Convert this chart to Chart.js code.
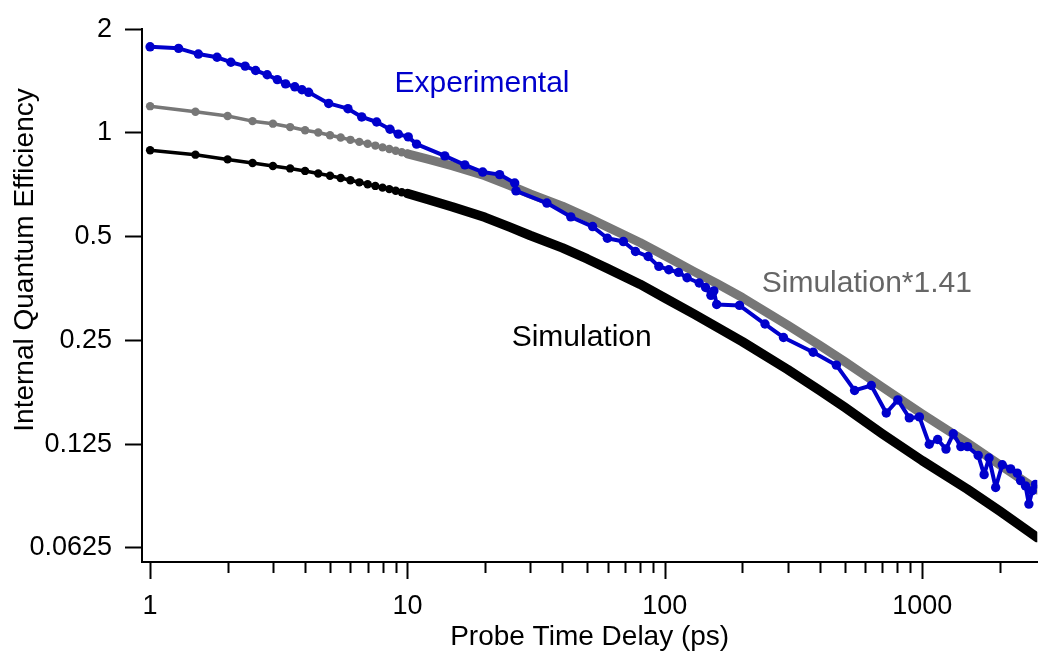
<!DOCTYPE html>
<html>
<head>
<meta charset="utf-8">
<title>Internal Quantum Efficiency vs Probe Time Delay</title>
<script src="https://cdn.jsdelivr.net/npm/chart.js@4.4.1/dist/chart.umd.min.js"></script>
<style>
  html, body { margin: 0; padding: 0; background: #fff; }
  #wrap { width: 1042px; height: 658px; position: relative; }
</style>
</head>
<body>
<div id="wrap"><canvas id="iqeChart"></canvas></div>
<script>
// measured transient (ps, IQE)
const expTime = [1.0, 1.29, 1.54, 1.82, 2.06, 2.34, 2.57, 2.85, 3.12, 3.36, 3.65, 3.89, 4.13, 4.94,
  5.87, 6.64, 7.59, 8.55, 9.21, 10.07, 10.85, 13.96, 16.7, 19.6, 22.8, 26.1, 26.4, 34.8, 43.1,
  52.4, 59.8, 69.0, 76.9, 86.1, 94.8, 103.6, 113, 122, 136, 144, 151, 155, 159, 195, 245, 289,
  377, 464, 546, 634, 725, 804, 891, 975, 1065, 1148, 1237, 1320, 1413, 1500, 1650, 1740, 1818,
  1929, 2047, 2206, 2340, 2410, 2520, 2597, 2677, 2756];
const expIQE = [1.778, 1.760, 1.694, 1.658, 1.604, 1.563, 1.518, 1.475, 1.428, 1.388, 1.361, 1.335, 1.312, 1.218,
  1.176, 1.113, 1.076, 1.025, 0.992, 0.974, 0.928, 0.858, 0.808, 0.770, 0.757, 0.716, 0.679, 0.626, 0.571,
  0.535, 0.495, 0.484, 0.453, 0.438, 0.410, 0.401, 0.394, 0.380, 0.367, 0.356, 0.338, 0.348, 0.318, 0.316, 0.279, 0.255,
  0.231, 0.212, 0.179, 0.185, 0.154, 0.168, 0.149, 0.150, 0.125, 0.129, 0.121, 0.134, 0.123, 0.123, 0.116, 0.102, 0.114,
  0.0936, 0.109, 0.106, 0.103, 0.098, 0.0946, 0.0838, 0.0916, 0.0956];

// simulation output, sampled every 0.5 ps early on
const simTime = [1, 1.5, 2, 2.5, 3, 3.5, 4, 4.5, 5, 5.5, 6, 6.5, 7, 7.5, 8, 8.5, 9, 9.5, 10,
  12, 15, 20, 25, 30, 40, 50, 60, 80, 100, 130, 160, 200, 300, 400, 500, 700, 1000, 1500, 2000, 2800];
const simIQE = [0.891, 0.865, 0.838, 0.818, 0.802, 0.789, 0.776, 0.763, 0.751, 0.740, 0.729, 0.719, 0.710, 0.702, 0.694, 0.687, 0.680, 0.673, 0.667,
  0.641, 0.610, 0.569, 0.533, 0.504, 0.464, 0.431, 0.404, 0.364, 0.332, 0.298, 0.273, 0.248, 0.206, 0.179, 0.160, 0.134, 0.112, 0.0925, 0.0800, 0.0670];
const simScaledIQE = [1.196, 1.152, 1.120, 1.082, 1.064, 1.040, 1.018, 1.003, 0.985, 0.970, 0.955, 0.942, 0.930, 0.919, 0.908, 0.898, 0.888, 0.879, 0.870,
  0.840, 0.802, 0.751, 0.704, 0.665, 0.613, 0.569, 0.533, 0.481, 0.440, 0.396, 0.365, 0.333, 0.277, 0.242, 0.217, 0.183, 0.153, 0.126, 0.109, 0.092];

const yTicks = [0.0625, 0.125, 0.25, 0.5, 1, 2];
const xTicks = [1, 2, 3, 4, 5, 6, 7, 8, 9, 10, 20, 30, 40, 50, 60, 70, 80, 90,
  100, 200, 300, 400, 500, 600, 700, 800, 900, 1000, 2000];
const xLabelled = [1, 10, 100, 1000];

const BLUE = '#0000cc';
const GREY = '#777777';
const FONT = "'Liberation Sans', Arial, sans-serif";

function toPoints(xs, ys) {
  return xs.map((x, i) => ({ x: x, y: ys[i] }));
}

// past ~10 ps the 0.5 ps samples overlap into a solid band
const denseAfter = 10;
function simDataset(label, ys, color, bandWidth) {
  return {
    label: label,
    data: toPoints(simTime, ys),
    borderColor: color,
    backgroundColor: color,
    borderWidth: 3.5,
    borderJoinStyle: 'round',
    borderCapStyle: 'round',
    pointRadius: ctx => (ctx.raw && ctx.raw.x <= denseAfter ? 4.2 : 0),
    pointBorderWidth: 0,
    segment: {
      borderWidth: ctx => (ctx.p0.parsed.x >= denseAfter ? bandWidth : 3.5)
    }
  };
}

// minor / major tick marks on the time axis
const timeTicks = {
  id: 'timeTicks',
  afterDraw(chart) {
    const xs = chart.scales.x;
    const ctx = chart.ctx;
    ctx.save();
    ctx.strokeStyle = '#000';
    ctx.lineWidth = 2;
    xs.ticks.forEach(t => {
      const px = Math.round(xs.getPixelForValue(t.value)) + 0.5;
      const len = xLabelled.includes(t.value) ? 17 : 11;
      ctx.beginPath();
      ctx.moveTo(px, xs.top);
      ctx.lineTo(px, xs.top + len);
      ctx.stroke();
    });
    ctx.restore();
  }
};

// vertical axis title, centred a little above the middle of the axis
const yTitle = {
  id: 'yTitle',
  afterDraw(chart) {
    const ctx = chart.ctx;
    ctx.save();
    ctx.translate(25, 260);
    ctx.rotate(-Math.PI / 2);
    ctx.font = '28px ' + FONT;
    ctx.fillStyle = '#000';
    ctx.textAlign = 'center';
    ctx.textBaseline = 'middle';
    ctx.fillText('Internal Quantum Efficiency', 0, 0);
    ctx.restore();
  }
};

// curve names written next to the traces
const curveNames = [
  { text: 'Experimental', t: 8.9, v: 1.39, color: BLUE },
  { text: 'Simulation*1.41', t: 238, v: 0.366, color: '#666666' },
  { text: 'Simulation', t: 25.4, v: 0.254, color: '#000000' }
];
const curveLabels = {
  id: 'curveLabels',
  afterDatasetsDraw(chart) {
    const { ctx, scales: { x, y } } = chart;
    ctx.save();
    ctx.font = '30px ' + FONT;
    ctx.textAlign = 'left';
    ctx.textBaseline = 'middle';
    curveNames.forEach(n => {
      ctx.fillStyle = n.color;
      ctx.fillText(n.text, x.getPixelForValue(n.t), y.getPixelForValue(n.v));
    });
    ctx.restore();
  }
};

new Chart(document.getElementById('iqeChart'), {
  type: 'line',
  data: {
    datasets: [
      {
        label: 'Experimental',
        data: toPoints(expTime, expIQE),
        borderColor: BLUE,
        backgroundColor: BLUE,
        borderWidth: 4,
        borderJoinStyle: 'round',
        pointRadius: 4.7,
        pointBorderWidth: 0
      },
      simDataset('Simulation*1.41', simScaledIQE, GREY, 9),
      simDataset('Simulation', simIQE, '#000000', 9.5)
    ]
  },
  options: {
    responsive: true,
    maintainAspectRatio: false,
    animation: false,
    layout: { padding: { top: 24, right: 0, bottom: 0, left: 0 } },
    plugins: {
      legend: { display: false },
      tooltip: { enabled: false }
    },
    scales: {
      x: {
        type: 'logarithmic',
        min: 0.93,
        max: 2800,
        afterBuildTicks: s => { s.ticks = xTicks.map(v => ({ value: v })); },
        afterFit: s => { s.height = 96; },
        grid: { display: true, drawOnChartArea: false, drawTicks: false },
        border: { display: true, color: '#000', width: 2 },
        ticks: {
          autoSkip: false,
          maxRotation: 0,
          padding: 28,
          color: '#000',
          font: { family: FONT, size: 27 },
          callback: v => (xLabelled.includes(v) ? String(v) : '')
        },
        title: {
          display: true,
          text: 'Probe Time Delay (ps)',
          color: '#000',
          font: { family: FONT, size: 28 },
          padding: { top: 0, bottom: 4 }
        }
      },
      y: {
        type: 'logarithmic',
        min: 0.0569,
        max: 2,
        afterBuildTicks: s => { s.ticks = yTicks.map(v => ({ value: v })); },
        afterFit: s => { s.width = 142; },
        grid: { drawOnChartArea: false, drawTicks: true, tickLength: 17, tickWidth: 2, tickColor: '#000' },
        border: { display: true, color: '#000', width: 2 },
        ticks: {
          padding: 13,
          color: '#000',
          font: { family: FONT, size: 27 },
          callback: v => String(v)
        },
        title: { display: false }
      }
    }
  },
  plugins: [timeTicks, yTitle, curveLabels]
});
</script>
</body>
</html>
